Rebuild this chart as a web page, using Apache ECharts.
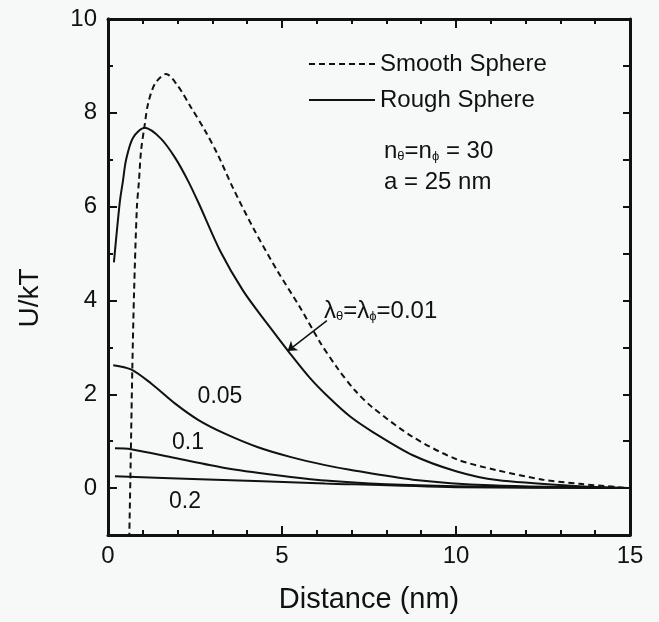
<!DOCTYPE html>
<html>
<head>
<meta charset="utf-8">
<script src="https://cdn.jsdelivr.net/npm/echarts@6/dist/echarts.min.js"></script>
<style>
  html, body { margin: 0; padding: 0; background: #f7f8f8; }
  #chart { width: 659px; height: 622px; }
</style>
</head>
<body>
<div id="chart"></div>
<script>
// values, [distance nm, U/kT]
const smoothSphere = [
  [0.60, -1.5], [0.65, 0.5], [0.70, 2.6], [0.75, 4.2], [0.83, 5.98], [0.89, 6.55],
  [0.95, 7.19], [1.06, 7.77], [1.15, 8.19], [1.35, 8.62], [1.67, 8.83], [2.01, 8.57],
  [2.39, 8.11], [2.79, 7.62], [3.16, 7.1], [3.59, 6.40], [4.17, 5.55], [4.86, 4.64],
  [5.52, 3.85], [6.1, 3.1], [6.6, 2.55], [7.1, 2.08], [7.6, 1.72], [8.76, 1.09],
  [10, 0.62], [11.18, 0.38], [12.5, 0.18], [13.56, 0.09], [15, 0.0]
]
const rough001 = [
  [0.17, 4.81], [0.34, 6.1], [0.43, 6.55], [0.52, 7.0], [0.72, 7.47], [1.06, 7.68],
  [1.52, 7.45], [1.93, 7.04], [2.30, 6.55], [2.62, 6.05], [3.22, 5.06], [3.88, 4.21],
  [4.57, 3.51], [5.2, 2.9], [5.8, 2.35], [6.35, 1.93], [6.95, 1.53], [7.6, 1.2],
  [8.76, 0.7], [10, 0.36], [11.18, 0.17], [13.56, 0.04], [15, 0.0]
]
const rough005 = [
  [0.15, 2.62], [0.66, 2.53], [1.24, 2.23], [1.93, 1.8], [2.6, 1.45], [3.36, 1.16],
  [4.31, 0.87], [5.26, 0.66], [6.24, 0.49], [6.95, 0.39], [8.76, 0.18], [11, 0.06], [15, 0.0]
]
const rough01 = [
  [0.2, 0.85], [0.66, 0.83], [1.93, 0.64], [3.36, 0.43], [4.8, 0.28], [6.24, 0.16],
  [8, 0.08], [10, 0.04], [15, 0.0]
]
const rough02 = [
  [0.2, 0.25], [2.64, 0.19], [6.24, 0.1], [10, 0.02], [15, 0.0]
]
const xTicks = [0, 5, 10, 15]
const yTicks = [0, 2, 4, 6, 8, 10]
const yMinorTicks = [1, 3, 5, 7, 9]

const chart = echarts.init(document.getElementById('chart'))
const font = 'Liberation Sans, Arial, sans-serif'
const black = '#111'

function lineSeries(name, data, dashed) {
  return {
    name,
    type: 'line',
    data,
    symbol: 'none',
    smooth: 0.3,
    lineStyle: { color: black, width: 2, type: dashed ? [6, 4] : 'solid' },
    itemStyle: { color: black },
    silent: true,
  }
}

const axisLine = { show: true, onZero: false, lineStyle: { color: black, width: 3 } }

const xBase = {
  type: 'value', min: 0, max: 15, interval: 5,
  axisLine,
  axisTick: { inside: true, length: 9, lineStyle: { color: black, width: 2 } },
  minorTick: { show: true, splitNumber: 5, length: 5, lineStyle: { color: black, width: 2 } },
  splitLine: { show: false },
}

const yBase = {
  type: 'value', min: -1, max: 10, interval: 1,
  axisLine,
  splitLine: { show: false },
}

chart.setOption({
  backgroundColor: '#f7f8f8',
  animation: false,
  grid: { left: 108, right: 29, top: 19, bottom: 87 },
  xAxis: [
    {
      ...xBase, position: 'bottom',
      axisLabel: { fontSize: 24, color: black, fontFamily: font, margin: 9,
        customValues: xTicks },
      name: 'Distance (nm)', nameLocation: 'middle', nameGap: 50,
      nameTextStyle: { fontSize: 29, color: black, fontFamily: font },
    },
    { ...xBase, position: 'top', axisLabel: { show: false } },
  ],
  yAxis: [
    {
      ...yBase, position: 'left',
      axisTick: { inside: true, length: 9, customValues: yTicks, lineStyle: { color: black, width: 2 } },
      axisLabel: { fontSize: 24, color: black, fontFamily: font, margin: 11, customValues: yTicks },
    },
    {
      ...yBase, position: 'left',
      axisTick: { inside: true, length: 5, customValues: yMinorTicks, lineStyle: { color: black, width: 2 } },
      axisLabel: { show: false },
    },
    {
      ...yBase, position: 'right',
      axisTick: { inside: true, length: 7, lineStyle: { color: black, width: 2 } },
      axisLabel: { show: false },
    },
  ],
  legend: {
    data: ['Smooth Sphere', 'Rough Sphere'],
    orient: 'vertical',
    left: 303, top: 47,
    itemWidth: 66, itemHeight: 14, itemGap: 12,
    itemStyle: { opacity: 0 },
    textStyle: { fontSize: 24, color: black, fontFamily: font },
    selectedMode: false,
  },
  series: [
    lineSeries('Smooth Sphere', smoothSphere, true),
    {
      ...lineSeries('Rough Sphere', rough001, false),
      markLine: {
        silent: true,
        symbol: ['none', 'arrow'],
        symbolSize: 9,
        label: { show: false },
        lineStyle: { color: black, width: 1.5, type: 'solid' },
        data: [[{ coord: [6.29, 3.57] }, { coord: [5.16, 2.92] }]],
      },
    },
    lineSeries('0.05', rough005, false),
    lineSeries('0.1', rough01, false),
    lineSeries('0.2', rough02, false),
  ],
  graphic: [
    {
      type: 'text', x: 30, y: 298, rotation: Math.PI / 2,
      style: { text: 'U/kT', fontSize: 28, fill: black, fontFamily: font, align: 'center', verticalAlign: 'middle' },
    },
    {
      type: 'text', x: 384, y: 148,
      style: {
        text: '{m|n}{s|θ}{m|=n}{s|ϕ}{m| = 30}',
        verticalAlign: 'middle', fill: black, fontFamily: font,
        rich: {
          m: { fontSize: 24, lineHeight: 30, verticalAlign: 'bottom', fontFamily: font },
          s: { fontSize: 13, lineHeight: 11, verticalAlign: 'bottom', fontFamily: font },
        },
      },
    },
    {
      type: 'text', x: 384, y: 182,
      style: { text: 'a = 25 nm', fontSize: 24, fill: black, fontFamily: font, verticalAlign: 'middle' },
    },
    {
      type: 'text', x: 324, y: 308,
      style: {
        text: '{m|λ}{s|θ}{m|=λ}{s|ϕ}{m|=0.01}',
        verticalAlign: 'middle', fill: black, fontFamily: font,
        rich: {
          m: { fontSize: 24, lineHeight: 30, verticalAlign: 'bottom', fontFamily: font },
          s: { fontSize: 13, lineHeight: 11, verticalAlign: 'bottom', fontFamily: font },
        },
      },
    },
    {
      type: 'text', x: 220, y: 397,
      style: { text: '0.05', fontSize: 23, fill: black, fontFamily: font, align: 'center', verticalAlign: 'middle' },
    },
    {
      type: 'text', x: 188, y: 443,
      style: { text: '0.1', fontSize: 23, fill: black, fontFamily: font, align: 'center', verticalAlign: 'middle' },
    },
    {
      type: 'text', x: 185, y: 502,
      style: { text: '0.2', fontSize: 23, fill: black, fontFamily: font, align: 'center', verticalAlign: 'middle' },
    },
  ],
})
</script>
</body>
</html>
